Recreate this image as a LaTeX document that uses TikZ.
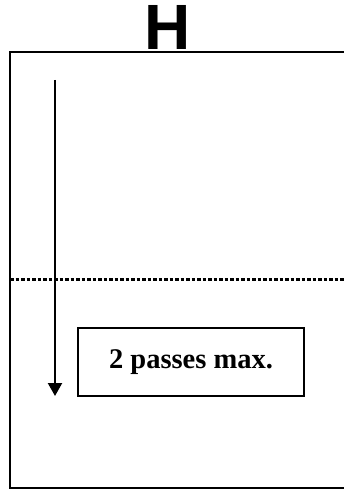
\documentclass[tikz,border=0pt]{standalone}
\usepackage{fontspec}
\setmainfont{Liberation Serif}
\setsansfont{Liberation Sans}
\usetikzlibrary{arrows.meta}
\begin{document}
\begin{tikzpicture}[x=1pt, y=-1pt]
        \useasboundingbox (0,0) rectangle (344,489);

        \draw[line width=1.8pt] (344,52) -- (10,52) -- (10,488) -- (344,488);
        \node[anchor=base, inner sep=0pt, font=\sffamily\bfseries\fontsize{64}{64}\selectfont] (title) at (168,50) {H};

        \draw[line width=3pt, dash pattern=on 3.5pt off 2pt] (10,279) -- (344,279);

        \coordinate (start) at (55,80);
        \coordinate (stop) at (55,396);
        \draw[line width=2.2pt, -{Triangle[width=14pt, length=13pt]}] (start) -- (stop);

        \node[draw, line width=1.8pt, minimum width=226pt, minimum height=68pt, font=\bfseries\fontsize{28.5}{32}\selectfont] (passes) at (191,362) {2 passes max.};
    \end{tikzpicture}
\end{document}
